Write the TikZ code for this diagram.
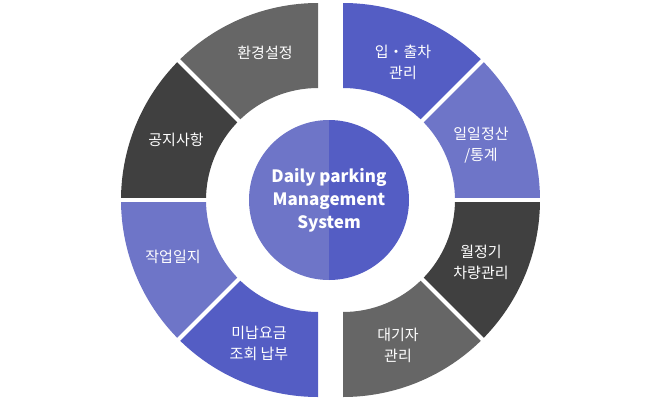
\documentclass[tikz,border=0pt]{standalone}
\usepackage{fontspec}
\setmainfont{Noto Sans CJK KR}
\usetikzlibrary{calc}
\definecolor{dblue}{HTML}{545DC4}
\definecolor{lblue}{HTML}{6E75C8}
\definecolor{dgray}{HTML}{404040}
\definecolor{mgray}{HTML}{666666}
\tikzset{lbl/.style={text=white,font=\fontsize{15}{21}\selectfont,align=center},
gap/.style={white,line width=4pt}}
\newcommand{\seg}[4]{\fill[#4] ($(#1)+(#2:197)$) arc[start angle=#2,end angle=#3,radius=197] -- ($(#1)+(#3:112)$) arc[start angle=#3,end angle=#2,radius=112] -- cycle;}
\begin{document}
\begin{tikzpicture}[x=1pt,y=1pt]
\useasboundingbox (0,0) rectangle (657,-400);
\coordinate (L) at (318,-200);
\coordinate (R) at (343,-200);
\seg{R}{90}{45}{dblue}
\seg{R}{45}{0}{lblue}
\seg{R}{0}{-45}{dgray}
\seg{R}{-45}{-90}{mgray}
\seg{L}{90}{135}{mgray}
\seg{L}{135}{180}{dgray}
\seg{L}{180}{225}{lblue}
\seg{L}{225}{270}{dblue}
\foreach \a in {45,0,-45} \draw[gap] ($(R)+(\a:100)$) -- ($(R)+(\a:210)$);
\foreach \a in {135,180,225} \draw[gap] ($(L)+(\a:100)$) -- ($(L)+(\a:210)$);
\coordinate (C) at (329,-200);
\fill[lblue] (C) ++(0,80) arc[start angle=90,end angle=270,radius=80] -- cycle;
\fill[dblue] (C) ++(0,80) arc[start angle=90,end angle=-90,radius=80] -- cycle;
\node[text=white,font=\bfseries\fontsize{17}{23}\selectfont,align=center] (ctr) at (329,-200) {Daily parking\\Management\\System};
\node[lbl] (n1) at (403,-62) {입・출차\\관리};
\node[lbl] (n2) at (481,-145) {일일정산\\/통계};
\node[lbl] (n3) at (481,-262) {월정기\\차량관리};
\node[lbl] (n4) at (398,-345) {대기자\\관리};
\node[lbl] (n5) at (259,-343) {미납요금\\조회 납부};
\node[lbl] (n6) at (173,-257) {작업일지};
\node[lbl] (n7) at (176,-140) {공지사항};
\node[lbl] (n8) at (265,-53) {환경설정};
\end{tikzpicture}
\end{document}
